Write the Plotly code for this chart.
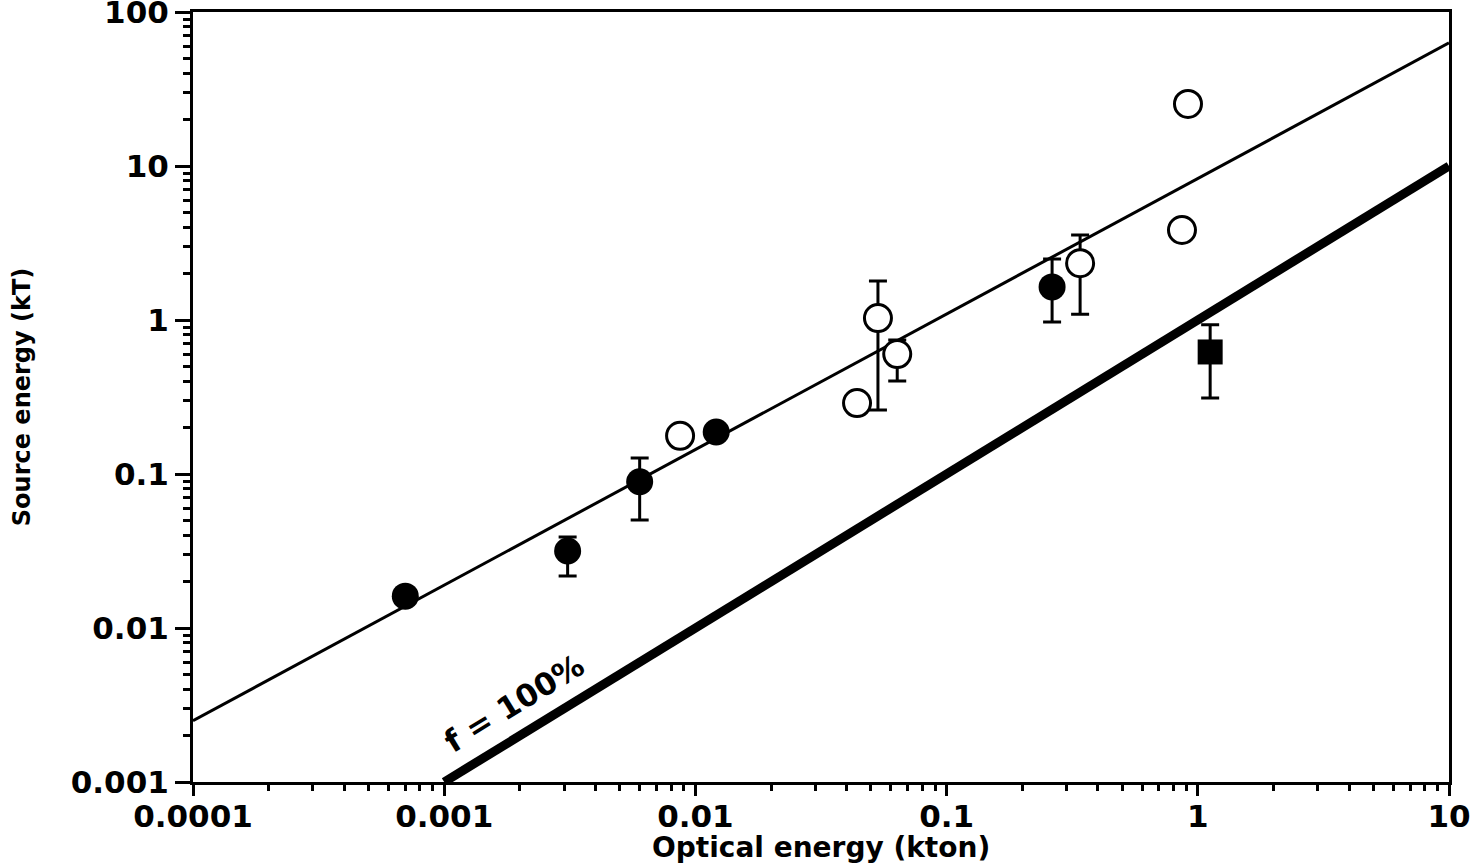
import plotly.graph_objects as go

# ---- data ----
filled_x = [0.0007, 0.0031, 0.006, 0.0121, 0.263]
filled_y = [0.0161, 0.0316, 0.089, 0.1875, 1.64]
filled_hi = [None, 0.039, 0.127, None, 2.49]
filled_lo = [None, 0.0218, 0.0502, None, 0.97]

square_x = [1.12]
square_y = [0.62]
square_hi = [0.93]
square_lo = [0.312]

open_x = [0.00869, 0.044, 0.0533, 0.0636, 0.34, 0.865, 0.914]
open_y = [0.177, 0.289, 1.03, 0.601, 2.34, 3.84, 25.3]
open_hi = [None, None, 1.79, 0.741, 3.57, None, None]
open_lo = [None, None, 0.26, 0.402, 1.09, None, None]

fit_x = [0.0001, 10]
fit_y = [0.0025, 63]

ref_x = [0.001, 10]
ref_y = [0.001, 10]

x_tickvals = [0.0001, 0.001, 0.01, 0.1, 1, 10]
x_ticktext = ["0.0001", "0.001", "0.01", "0.1", "1", "10"]
y_tickvals = [0.001, 0.01, 0.1, 1, 10, 100]
y_ticktext = ["0.001", "0.01", "0.1", "1", "10", "100"]

ref_label = "f = 100%"
x_title = "Optical energy (kton)"
y_title = "Source energy (kT)"


def err(vals, bounds, upper):
    out = []
    for v, b in zip(vals, bounds):
        if b is None:
            out.append(None)
        else:
            out.append(b - v if upper else v - b)
    return out


FONT = "DejaVu Sans"
BLACK = "black"

fig = go.Figure()

fig.add_trace(go.Scatter(x=fit_x, y=fit_y, mode="lines",
                         line=dict(color=BLACK, width=3), showlegend=False))
fig.add_trace(go.Scatter(x=ref_x, y=ref_y, mode="lines",
                         line=dict(color=BLACK, width=9), showlegend=False))

ebar = dict(type="data", symmetric=False, color=BLACK, thickness=3, width=9)

fig.add_trace(go.Scatter(
    x=filled_x, y=filled_y, mode="markers",
    marker=dict(symbol="circle", size=27, color=BLACK, line=dict(width=0)),
    error_y=dict(array=err(filled_y, filled_hi, True),
                 arrayminus=err(filled_y, filled_lo, False), **ebar),
    showlegend=False))

fig.add_trace(go.Scatter(
    x=square_x, y=square_y, mode="markers",
    marker=dict(symbol="square", size=25, color=BLACK, line=dict(width=0)),
    error_y=dict(array=err(square_y, square_hi, True),
                 arrayminus=err(square_y, square_lo, False), **ebar),
    showlegend=False))

fig.add_trace(go.Scatter(
    x=open_x, y=open_y, mode="markers",
    marker=dict(symbol="circle", size=27, color="white",
                line=dict(color=BLACK, width=3)),
    error_y=dict(array=err(open_y, open_hi, True),
                 arrayminus=err(open_y, open_lo, False), **ebar),
    showlegend=False))

minor_vals_x = [k * 10 ** e for e in range(-4, 1) for k in range(2, 10)]
minor_vals_y = [k * 10 ** e for e in range(-3, 2) for k in range(2, 10)]

axis_common = dict(
    type="log", showgrid=False, zeroline=False, automargin=False,
    showline=True, linecolor=BLACK, linewidth=3, mirror=True,
    ticks="outside", tickwidth=3, tickcolor=BLACK,
    ticklabeloverflow="allow",
    tickfont=dict(family=FONT, size=31, color=BLACK, weight="bold"),
)

fig.update_xaxes(range=[-4, 1], tickmode="array", tickvals=x_tickvals,
                 ticktext=x_ticktext, ticklen=11, ticklabelstandoff=-6,
                 minor=dict(tickmode="array", tickvals=minor_vals_x,
                            ticks="outside", ticklen=6, tickwidth=3,
                            tickcolor=BLACK, showgrid=False),
                 **axis_common)
fig.update_yaxes(range=[-3, 2], tickmode="array", tickvals=y_tickvals,
                 ticktext=y_ticktext, ticklen=15, ticklabelstandoff=0,
                 minor=dict(tickmode="array", tickvals=minor_vals_y,
                            ticks="outside", ticklen=7, tickwidth=3,
                            tickcolor=BLACK, showgrid=False),
                 **axis_common)

fig.add_annotation(x=-2.72, y=-2.49, xref="x", yref="y", text=ref_label,
                   showarrow=False, textangle=-31.5,
                   font=dict(family=FONT, size=31, color=BLACK, weight="bold"))
fig.add_annotation(x=0.5, y=-0.085, xref="paper", yref="paper", text=x_title,
                   showarrow=False, xanchor="center", yanchor="middle",
                   font=dict(family=FONT, size=28, color=BLACK, weight="bold"))
fig.add_annotation(x=-0.136, y=0.5, xref="paper", yref="paper", text=y_title,
                   showarrow=False, xanchor="center", yanchor="middle",
                   textangle=-90,
                   font=dict(family=FONT, size=24, color=BLACK, weight="bold"))

fig.update_layout(
    width=1479, height=865,
    margin=dict(l=193, r=30, t=12, b=83),
    paper_bgcolor="white", plot_bgcolor="white",
    showlegend=False,
)

fig.write_html("out.html")
